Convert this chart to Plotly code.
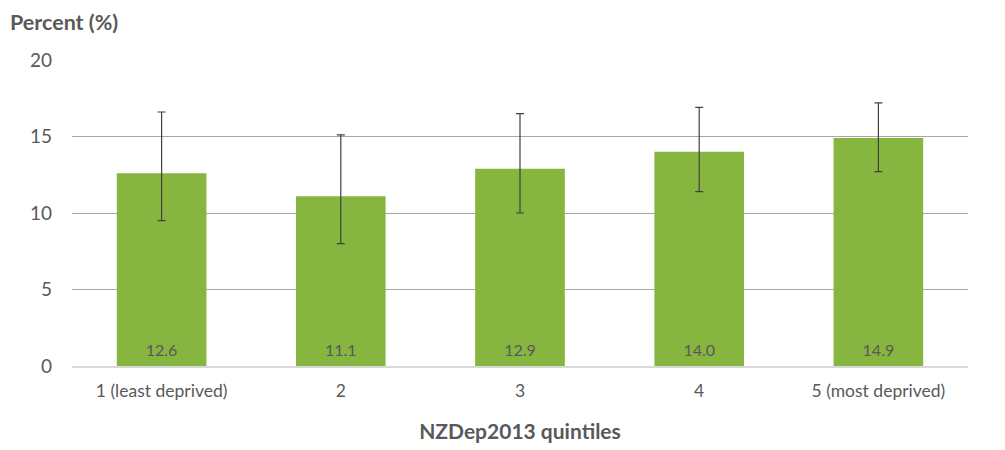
import plotly.graph_objects as go

categories = ["1 (least deprived)", "2", "3", "4", "5 (most deprived)"]
values = [12.6, 11.1, 12.9, 14.0, 14.9]
upper = [16.6, 15.1, 16.5, 16.9, 17.2]
lower = [9.5, 8.0, 10.0, 11.4, 12.7]
labels = ["12.6", "11.1", "12.9", "14.0", "14.9"]

err_plus = [u - v for u, v in zip(upper, values)]
err_minus = [v - l for v, l in zip(values, lower)]

FONT = "Lato"
TXT = "#595959"

fig = go.Figure(go.Bar(
    x=categories, y=values,
    marker=dict(color="#86b540", line=dict(width=0)),
    text=["<span style='font-size:16px'>" + t + "</span><br> " for t in labels],
    textposition="inside", insidetextanchor="start",
    textfont=dict(family=FONT, size=5, color=TXT),
    textangle=0,
    error_y=dict(type="data", symmetric=False, array=err_plus, arrayminus=err_minus,
                 color="#404040", thickness=1.2, width=4),
    cliponaxis=False,
))

fig.update_layout(
    width=1005, height=450,
    margin=dict(l=64, r=45, t=52, b=92),
    paper_bgcolor="white", plot_bgcolor="white",
    bargap=0.5,
    showlegend=False,
    font=dict(family=FONT, color=TXT),
    uniformtext=dict(minsize=4, mode="show"),
    xaxis=dict(
        tickfont=dict(family=FONT, size=17.5, color=TXT),
        showgrid=False, ticks="", showline=True, linecolor="#d9d9d9", linewidth=2,
        ticklabelstandoff=8,
        title=dict(text="<b>NZDep2013 quintiles</b>", font=dict(family=FONT, size=21, color=TXT), standoff=24),
    ),
    yaxis=dict(
        range=[0, 20], dtick=5,
        tickfont=dict(family=FONT, size=19, color=TXT),
        gridcolor="#a6a6a6", gridwidth=1, zeroline=False, ticks="", showline=False,
        ticklabelstandoff=19,
    ),
    annotations=[dict(
        text="<b>Percent (%)</b>", xref="paper", yref="paper", x=0, y=1.0,
        xanchor="left", yanchor="bottom", yshift=23, xshift=-64, showarrow=False,
        font=dict(family=FONT, size=21.5, color=TXT),
    )],
)

fig.write_html("out.html")
